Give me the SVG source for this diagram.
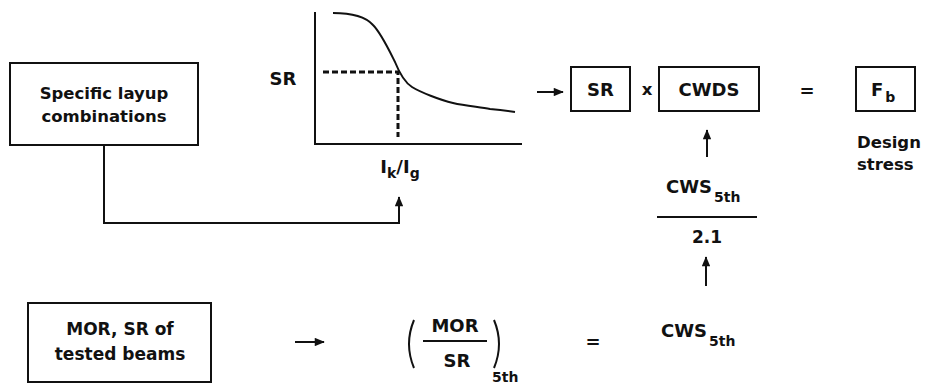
<svg xmlns="http://www.w3.org/2000/svg" width="926" height="386" viewBox="0 0 926 386">
<style>
text{font-family:"DejaVu Sans","Open Sans",sans-serif;font-weight:bold;fill:#111}
.box{fill:#fff;stroke:#111;stroke-width:2}
.ln{fill:none;stroke:#111;stroke-width:2}
.dash{fill:none;stroke:#111;stroke-width:3;stroke-dasharray:6 3}
.t16{font-size:16.5px}
.t17{font-size:17px}
.t18{font-size:18px}
.sub{font-size:14px}
</style>
<defs>
<marker id="ah" viewBox="0 0 12 10" refX="11" refY="5" markerWidth="5.5" markerHeight="4.2" orient="auto" markerUnits="strokeWidth">
<path d="M0,0 L12,5 L0,10 z" fill="#111"/>
</marker>
</defs>
<rect width="926" height="386" fill="#fff"/>

<g id="layup">
<rect class="box" x="10" y="63" width="188" height="82"/>
<text class="t16" x="104" y="99" text-anchor="middle">Specific layup</text>
<text class="t16" x="104" y="122" text-anchor="middle">combinations</text>
</g>

<g id="graph">
<text class="t18" x="283" y="85" text-anchor="middle">SR</text>
<path class="ln" d="M315,12 V144 H522"/>
<path class="ln" d="M333,13 C350,13 365,16 373,25 C381,33 389,50 395,62 C399,72 404,82 412,87 C420,92 440,100 453,103 C466,106 480,107 490,109 C500,110 508,111 515,112"/>
<path class="dash" d="M323,72 H398 V137"/>
<text class="t18" x="400" y="173" text-anchor="middle">I<tspan class="sub" dy="5">k</tspan><tspan dy="-5">/I</tspan><tspan class="sub" dy="5">g</tspan></text>
</g>

<g id="sr">
<rect class="box" x="571" y="67" width="59" height="44"/>
<text class="t18" x="600.5" y="96" text-anchor="middle">SR</text>
</g>
<text class="t16" x="647" y="95" text-anchor="middle">x</text>
<g id="cwds">
<rect class="box" x="659" y="67" width="100" height="44"/>
<text class="t18" x="709" y="96" text-anchor="middle">CWDS</text>
</g>
<text class="t18" x="807" y="97" text-anchor="middle">=</text>
<g id="fb">
<rect class="box" x="856" y="67" width="59" height="44"/>
<text class="t18" x="871" y="96">F<tspan class="sub" dx="2" dy="6">b</tspan></text>
</g>
<g id="design">
<text class="t16" x="857" y="148">Design</text>
<text class="t16" x="857" y="170">stress</text>
</g>

<g id="cws-frac">
<text class="t18" x="666" y="193">CWS<tspan class="sub" dx="2" dy="9">5th</tspan></text>
<line class="ln" x1="657" y1="217" x2="757" y2="217"/>
<text class="t17" x="707" y="243" text-anchor="middle">2.1</text>
</g>

<g id="mor">
<rect class="box" x="28" y="303" width="183" height="79"/>
<text class="t17" x="120" y="335" text-anchor="middle">MOR, SR of</text>
<text class="t17" x="120" y="360" text-anchor="middle">tested beams</text>
</g>

<g id="ratio">
<path class="ln" d="M414,320 Q404,344 414,368"/>
<text class="t18" x="455" y="332" text-anchor="middle">MOR</text>
<line class="ln" x1="423" y1="341" x2="487" y2="341"/>
<text class="t18" x="457" y="367" text-anchor="middle">SR</text>
<path class="ln" d="M494,320 Q504,344 494,368"/>
<text class="sub" x="492" y="382">5th</text>
</g>
<text class="t18" x="593" y="348" text-anchor="middle">=</text>
<g id="cws-bottom">
<text class="t18" x="661" y="337">CWS<tspan class="sub" dx="2" dy="9">5th</tspan></text>
</g>

<g id="connectors">
<path class="ln" d="M104,145 V223 H399 V197" marker-end="url(#ah)"/>
<line class="ln" x1="537" y1="92" x2="563" y2="92" marker-end="url(#ah)"/>
<line class="ln" x1="707" y1="157" x2="707" y2="130" marker-end="url(#ah)"/>
<line class="ln" x1="706" y1="286" x2="706" y2="257" marker-end="url(#ah)"/>
<line class="ln" x1="295" y1="342" x2="324" y2="342" marker-end="url(#ah)"/>
</g>
</svg>
